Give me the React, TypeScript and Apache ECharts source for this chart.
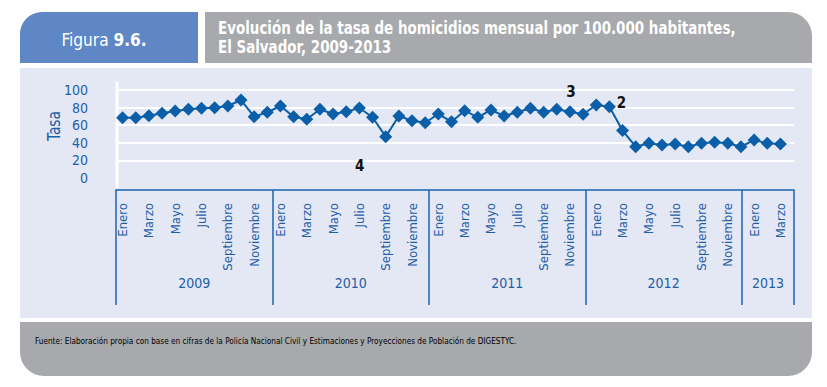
import React, { useEffect, useRef } from "react";
import * as echarts from "echarts";

const monthNames = ["Enero", "Febrero", "Marzo", "Abril", "Mayo", "Junio", "Julio", "Agosto", "Septiembre", "Octubre", "Noviembre", "Diciembre"];
const years = ["2009", "2010", "2011", "2012", "2013"];
const monthsPerYear = [12, 12, 12, 12, 3];
const yearSlots = [12, 12, 12, 12, 4];

const rate2009 = [68.5, 68.5, 70.8, 73.5, 76.1, 78.1, 79.2, 79.9, 81.8, 88.6, 69.7, 74.7];
const rate2010 = [81.8, 69.7, 66.7, 78.1, 72.7, 75.4, 79.5, 69.0, 47.0, 70.5, 65.1, 62.8];
const rate2011 = [72.7, 64.0, 76.5, 69.0, 77.3, 70.5, 74.7, 79.2, 74.7, 78.1, 75.4, 72.4];
const rate2012 = [83.0, 81.0, 53.9, 35.6, 39.4, 37.5, 38.6, 35.6, 39.4, 40.5, 39.4, 35.6];
const rate2013 = [43.2, 39.4, 38.6];

const yTicks = [0, 20, 40, 60, 80, 100];

// annotation numbers attached to months (year index, month index, text)
const annotations = [
  { year: 1, month: 8, text: "4" },
  { year: 2, month: 10, text: "3" },
  { year: 3, month: 1, text: "2" },
];

const FONT = "'Liberation Sans Narrow', 'DejaVu Sans Condensed', 'Arial Narrow', sans-serif";
const BLUE_TEXT = "#1f5ea8";
const LINE_BLUE = "#0a5fa8";

export default function App() {
  const ref = useRef<HTMLDivElement>(null);

  useEffect(() => {
    if (!ref.current) return;
    const chart = echarts.init(ref.current, undefined, { renderer: "svg" });

    const categories: string[] = [];
    monthsPerYear.forEach((n) => {
      for (let i = 0; i < n; i++) categories.push(monthNames[i]);
    });
    const values = [...rate2009, ...rate2010, ...rate2011, ...rate2012, ...rate2013];

    const yearStart: number[] = [];
    let acc = 0;
    monthsPerYear.forEach((n) => {
      yearStart.push(acc);
      acc += n;
    });

    const labelOffsets: Record<string, number[]> = {
      "4": [-26, 29],
      "3": [1, -20],
      "2": [12, -4],
    };

    const seriesData: any[] = values.map((v) => v);
    annotations.forEach((a) => {
      const idx = yearStart[a.year] + a.month;
      seriesData[idx] = {
        value: values[idx],
        label: {
          show: true,
          position: "inside",
          formatter: a.text,
          offset: labelOffsets[a.text],
          color: "#111",
          fontFamily: FONT,
          fontWeight: "bold",
          fontSize: 15,
        },
      };
    });

    const boundaries: number[] = [0];
    yearSlots.forEach((s, i) => boundaries.push(boundaries[i] + s));
    const yearCenters = yearSlots.map((s, i) => boundaries[i] + s / 2);
    const totalSlots = boundaries[boundaries.length - 1];

    const option: any = {
      animation: false,
      backgroundColor: "#ffffff",
      graphic: [
        {
          type: "rect",
          z: -10,
          shape: { x: 20, y: 12, width: 178, height: 51, r: [22, 0, 0, 0] },
          style: { fill: "#5f86c5" },
        },
        {
          type: "rect",
          z: -10,
          shape: { x: 205, y: 12, width: 607, height: 51, r: [0, 24, 0, 0] },
          style: { fill: "#a7a9ac" },
        },
        {
          type: "rect",
          z: -10,
          shape: { x: 20, y: 68, width: 792, height: 250 },
          style: { fill: "#e4e7f4" },
        },
        {
          type: "rect",
          z: -10,
          shape: { x: 20, y: 322, width: 792, height: 54, r: [0, 0, 24, 24] },
          style: { fill: "#a7a9ac" },
        },
        {
          type: "text",
          x: 104,
          y: 40,
          scaleX: 0.95,
          style: {
            text: "{a|Figura }{b|9.6.}",
            align: "center",
            verticalAlign: "middle",
            rich: {
              a: { fill: "#fff", fontFamily: FONT, fontSize: 18 },
              b: { fill: "#fff", fontFamily: FONT, fontSize: 18, fontWeight: "bold" },
            },
          },
        },
        {
          type: "text",
          x: 218,
          y: 28,
          scaleX: 0.88,
          style: {
            text: "Evolución de la tasa de homicidios mensual por 100.000 habitantes,",
            fill: "#fff",
            fontFamily: FONT,
            fontWeight: "bold",
            fontSize: 17,
            verticalAlign: "middle",
          },
        },
        {
          type: "text",
          x: 218,
          y: 47,
          scaleX: 0.88,
          style: {
            text: "El Salvador, 2009-2013",
            fill: "#fff",
            fontFamily: FONT,
            fontWeight: "bold",
            fontSize: 17,
            verticalAlign: "middle",
          },
        },
        {
          type: "text",
          x: 35,
          y: 341,
          scaleX: 0.86,
          style: {
            text: "Fuente: Elaboración propia con base en cifras de la Policía Nacional Civil y Estimaciones y Proyecciones de Población de DIGESTYC.",
            fill: "#000",
            fontFamily: FONT,
            fontSize: 9.5,
            verticalAlign: "middle",
          },
        },
        {
          type: "text",
          x: 54,
          y: 126,
          rotation: Math.PI / 2,
          scaleX: 0.9,
          style: {
            text: "Tasa",
            fill: BLUE_TEXT,
            fontFamily: FONT,
            fontSize: 17,
            align: "center",
            verticalAlign: "middle",
          },
        },
        {
          type: "line",
          z: 1,
          shape: { x1: 117, y1: 82, x2: 117, y2: 188 },
          style: { stroke: "#ffffff", lineWidth: 3 },
        },
      ],
      grid: [
        { left: 116, top: 90, width: 678, height: 88 },
        { left: 116, top: 90, width: 671, height: 88 },
        { left: 116, top: 90, width: 678, height: 100 },
      ],
      xAxis: [
        { gridIndex: 0, type: "value", min: 0, max: 1, show: false },
        {
          gridIndex: 1,
          type: "category",
          data: categories,
          boundaryGap: true,
          axisLine: { show: false },
          axisTick: { show: false },
          splitLine: { show: false },
          axisLabel: {
            interval: (i: number) => i % 2 === 0,
            rotate: 90,
            margin: 25,
            color: BLUE_TEXT,
            fontFamily: FONT,
            fontSize: 13,
          },
        },
        {
          gridIndex: 2,
          type: "value",
          min: 0,
          max: totalSlots,
          axisLine: { show: true, lineStyle: { color: "#1a64b0", width: 1.5 } },
          axisTick: {
            show: true,
            customValues: boundaries,
            length: 115,
            lineStyle: { color: "#1a64b0", width: 1.5 },
          },
          splitLine: { show: false },
          axisLabel: {
            customValues: yearCenters,
            formatter: (v: number) => {
              const i = yearCenters.indexOf(v);
              return i >= 0 ? years[i] : "";
            },
            margin: 86,
            color: BLUE_TEXT,
            fontFamily: FONT,
            fontSize: 14,
          },
        },
      ],
      yAxis: [
        {
          gridIndex: 0,
          type: "value",
          min: yTicks[0],
          max: yTicks[yTicks.length - 1],
          interval: 20,
          axisLine: { show: false },
          axisTick: { show: false },
          axisLabel: { margin: 28, color: BLUE_TEXT, fontFamily: FONT, fontSize: 14 },
          splitLine: {
            show: true,
            lineStyle: { color: ["rgba(0,0,0,0)", "#fff", "#fff", "#fff", "#fff", "#fff"], width: 2 },
          },
        },
        { gridIndex: 1, type: "value", min: 0, max: 100, show: false },
        { gridIndex: 2, type: "value", min: 0, max: 1, show: false },
      ],
      series: [
        {
          type: "line",
          xAxisIndex: 1,
          yAxisIndex: 1,
          z: 5,
          data: seriesData,
          symbol: "diamond",
          symbolSize: 13,
          showAllSymbol: true,
          lineStyle: { color: LINE_BLUE, width: 2 },
          itemStyle: { color: LINE_BLUE },
          label: { show: false },
        },
      ],
    };

    chart.setOption(option);
    return () => chart.dispose();
  }, []);

  return (
    <div
      ref={ref}
      style={{ position: "fixed", left: 0, top: 0, width: 827, height: 387, background: "#fff" }}
    />
  );
}
